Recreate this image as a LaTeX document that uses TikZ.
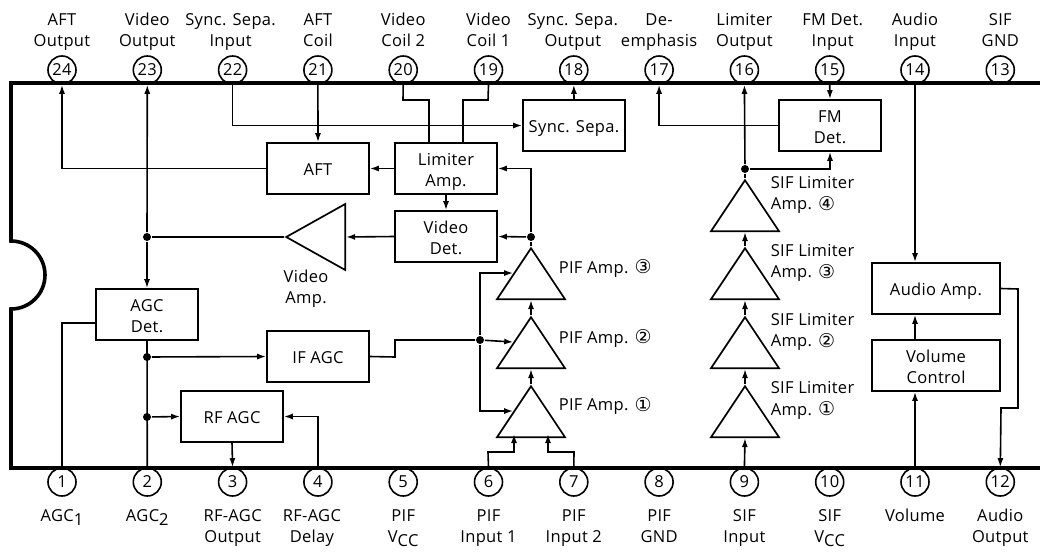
\documentclass[tikz,border=0pt]{standalone}
\usepackage{fontspec}
\setmainfont[LetterSpace=2]{Open Sans}
\newfontfamily\circfont{DejaVu Sans}
\usetikzlibrary{arrows.meta,shapes.geometric}

\newcommand{\subtxt}[1]{\raisebox{-4pt}{#1}}
\newcommand{\circnum}[1]{{\circfont\fontsize{19}{19}\selectfont\raisebox{-0.5pt}{#1}}}

\tikzset{
  txt/.style={font=\fontsize{16.5}{21.8}\selectfont, align=center, inner sep=0pt, text height=12pt, text depth=0pt},
  two/.style={text height=33.8pt},
  pinc/.style={draw, circle, line width=1.6pt, minimum size=28pt, inner sep=0pt, font=\fontsize{16.5}{16.5}\selectfont},
  block/.style={txt, draw, line width=1.6pt, minimum width=102pt, minimum height=51pt, text height=14pt},
  blocktwo/.style={text height=36.8pt},
  wideblock/.style={block, minimum width=128pt},
  ampup/.style={draw, line width=1.7pt, isosceles triangle, isosceles triangle stretches, shape border rotate=90,
    minimum width=68pt, minimum height=51pt, inner sep=0pt, anchor=apex},
  ampleft/.style={ampup, shape border rotate=180, minimum width=66pt, minimum height=59pt},
  amptxt/.style={txt, align=left, anchor=west},
  dot/.style={circle, fill=black, minimum size=8pt, inner sep=0pt},
  hv/.style={to path={-| (\tikztotarget)}},
  vh/.style={to path={|- (\tikztotarget)}}
}

\begin{document}
\begin{tikzpicture}[x=1pt, y=-1pt, ->, >={Latex[length=9pt,width=6pt]}, line width=1.6pt]
  \useasboundingbox (0,0) rectangle (1040,551);

  % upper row of pins
  \node[pinc] (P24)                 at (62,70)       {24};
  \begin{scope}[node distance=85.3pt]
    \node[pinc] (P23) [right of=P24] {23};
    \node[pinc] (P22) [right of=P23] {22};
    \node[pinc] (P21) [right of=P22] {21};
    \node[pinc] (P20) [right of=P21] {20};
    \node[pinc] (P19) [right of=P20] {19};
    \node[pinc] (P18) [right of=P19] {18};
    \node[pinc] (P17) [right of=P18] {17};
    \node[pinc] (P16) [right of=P17] {16};
    \node[pinc] (P15) [right of=P16] {15};
    \node[pinc] (P14) [right of=P15] {14};
    \node[pinc] (P13) [right of=P14] {13};
  \end{scope}

  % lower row of pins
  \node[pinc] (P1)                  at (62,482)      {1};
  \begin{scope}[node distance=85.3pt]
    \node[pinc] (P2)  [right of=P1]  {2};
    \node[pinc] (P3)  [right of=P2]  {3};
    \node[pinc] (P4)  [right of=P3]  {4};
    \node[pinc] (P5)  [right of=P4]  {5};
    \node[pinc] (P6)  [right of=P5]  {6};
    \node[pinc] (P7)  [right of=P6]  {7};
    \node[pinc] (P8)  [right of=P7]  {8};
    \node[pinc] (P9)  [right of=P8]  {9};
    \node[pinc] (P10) [right of=P9]  {10};
    \node[pinc] (P11) [right of=P10] {11};
    \node[pinc] (P12) [right of=P11] {12};
  \end{scope}

  % package outline
  \draw[-, line width=3.6pt] (1040,83) -- (11,83) -- (11,241)
    arc [start angle=90, end angle=-90, radius=34pt] -- (11,468) -- (1040,468);

  % pin names
  \begin{scope}[node distance=40pt]
    \node[txt,two] (T24) [above of=P24] {AFT\\Output};
    \node[txt,two] (T23) [above of=P23] {Video\\Output};
    \node[txt,two] (T22) [above of=P22, xshift=-2pt] {Sync. Sepa.\\Input};
    \node[txt,two] (T21) [above of=P21] {AFT\\Coil};
    \node[txt,two] (T20) [above of=P20] {Video\\Coil 2};
    \node[txt,two] (T19) [above of=P19] {Video\\Coil 1};
    \node[txt,two] (T18) [above of=P18, xshift=-1pt] {Sync. Sepa.\\Output};
    \node[txt,two] (T17) [above of=P17] {De-\\emphasis};
    \node[txt,two] (T16) [above of=P16] {Limiter\\Output};
    \node[txt,two] (T15) [above of=P15, xshift=3pt] {FM Det.\\Input};
    \node[txt,two] (T14) [above of=P14] {Audio\\Input};
    \node[txt,two] (T13) [above of=P13] {SIF\\GND};
  \end{scope}
  \begin{scope}[node distance=33.5pt]
    \node[txt] (T1)  [below of=P1]  {AGC\subtxt{1}};
    \node[txt] (T2)  [below of=P2]  {AGC\subtxt{2}};
    \node[txt] (T11) [below of=P11] {Volume};
  \end{scope}
  \begin{scope}[node distance=44pt]
    \node[txt,two] (T3)  [below of=P3]  {RF-AGC\\Output};
    \node[txt,two] (T4)  [below of=P4, xshift=-6pt] {RF-AGC\\Delay};
    \node[txt,two] (T5)  [below of=P5]  {PIF\\V\subtxt{CC}};
    \node[txt,two] (T6)  [below of=P6]  {PIF\\Input 1};
    \node[txt,two] (T7)  [below of=P7]  {PIF\\Input 2};
    \node[txt,two] (T8)  [below of=P8]  {PIF\\GND};
    \node[txt,two] (T9)  [below of=P9]  {SIF\\Input};
    \node[txt,two] (T10) [below of=P10] {SIF\\V\subtxt{CC}};
    \node[txt,two] (T12) [below of=P12] {Audio\\Output};
  \end{scope}

  % blocks
  \node[block]              (AFT)     at (318,168.5) {AFT};
  \node[block,blocktwo]     (Limiter) at (446,168.5) {Limiter\\Amp.};
  \node[block,blocktwo]     (VideoD)  at (446,236.5) {Video\\Det.};
  \node[block]              (Sync)    at (574,125.5) {Sync. Sepa.};
  \node[block,blocktwo]     (FMDet)   at (830,125.5) {FM\\Det.};
  \node[block,blocktwo]     (AGCDet)  at (147,314.5) {AGC\\Det.};
  \node[block]              (IFAGC)   at (318,356.5) {IF AGC};
  \node[block]              (RFAGC)   at (232,416.5) {RF AGC};
  \node[wideblock]          (AudioA)  at (936,288.5) {Audio Amp.};
  \node[wideblock,blocktwo] (VolC)    at (936,365.5) {Volume\\Control};

  % amplifiers
  \node[ampleft] (VAmp) at (284,237) {};
  \node[ampup] (PIF3) at (531,246) {};
  \node[ampup] (PIF2) at (531,315) {};
  \node[ampup] (PIF1) at (531,384) {};
  \node[ampup] (SIF4) at (745,178) {};
  \node[ampup] (SIF3) at (745,246) {};
  \node[ampup] (SIF2) at (745,315) {};
  \node[ampup] (SIF1) at (745,384) {};

  \node[txt,two]    (VAmpT) at (306,287)   {Video\\Amp.};
  \node[amptxt]     (PIF3T) at (558,267)   {PIF Amp. \circnum{③}};
  \node[amptxt]     (PIF2T) at (558,337)   {PIF Amp. \circnum{②}};
  \node[amptxt]     (PIF1T) at (558,404.5) {PIF Amp. \circnum{①}};
  \node[amptxt,two] (SIF4T) at (770,193)   {SIF Limiter\\Amp. \circnum{④}};
  \node[amptxt,two] (SIF3T) at (770,261)   {SIF Limiter\\Amp. \circnum{③}};
  \node[amptxt,two] (SIF2T) at (770,330)   {SIF Limiter\\Amp. \circnum{②}};
  \node[amptxt,two] (SIF1T) at (770,398.5) {SIF Limiter\\Amp. \circnum{①}};

  % junctions
  \node[dot] (DVid)  at (147,237)   {};
  \node[dot] (DPif)  at (531,237)   {};
  \node[dot] (DSif)  at (745,169)   {};
  \node[dot] (DIf)   at (147,357)   {};
  \node[dot] (DRf)   at (147,417)   {};
  \node[dot] (DGain) at (480,340)   {};

  \path (AFT.west)      edge [hv] (P24.south)
        (DVid)          edge [] (P23.south)
                        edge [] (AGCDet.north)
        (P22.south)     edge [vh] (Sync.west)
        (P21.south)     edge [] (AFT.north)
        (Sync.north)    edge [] (P18.south)
        (Limiter.west)  edge [] (AFT.east)
        (Limiter.south) edge [] (VideoD.north)
        (VideoD.west)   edge [] (VAmp.lower side)
        (DPif)          edge [] (VideoD.east)
        (DPif)          edge [vh] (Limiter.east)
        (FMDet.west)    edge [hv] (P17.south)
        (DSif)          edge [] (P16.south)
                        edge [hv] (FMDet.south)
        (P15.south)     edge [] (FMDet.north)
        (P14.south)     edge [] (P14.south |- AudioA.north)
        (PIF1.apex)     edge [] (PIF2.lower side)
        (PIF2.apex)     edge [] (PIF3.lower side)
        (SIF1.apex)     edge [] (SIF2.lower side)
        (SIF2.apex)     edge [] (SIF3.lower side)
        (SIF3.apex)     edge [] (SIF4.lower side)
        (P9.north)      edge [] (SIF1.lower side)
        (P11.north)     edge [] (P11.north |- VolC.south)
        (P11.north |- VolC.north) edge [] (P11.north |- AudioA.south)
        (DIf)           edge [] (IFAGC.west)
        (DRf)           edge [] (RFAGC.west)
        (RFAGC.south)   edge [] (P3.north)
        (P4.north)      edge [vh] (RFAGC.east)
        (DGain)         edge [] (PIF2.left side)
        (DGain)         edge [vh] (PIF3.left side)
                        edge [vh] (PIF1.left side)
        ;

  % plain wires and wires with several bends
  \draw[-] (P20.south) -- (403,100) -- (429,100) -- (429,143);
  \draw[-] (P19.south) -- (488,100) -- (463,100) -- (463,143);
  \draw[-] (VAmp.apex) -- (DVid);
  \draw[-] (PIF3.apex) -- (DPif);
  \draw[-] (SIF4.apex) -- (DSif);
  \draw[-] (AGCDet.west |- 0,323) -| (P1.north);
  \draw[-] (AGCDet.south) -- (P2.north);
  \draw[-] (IFAGC.east) -- (395,357) -- (395,340) -- (DGain);
  \draw    (P6.north) -- (488,452) -- (514,452) -- (514,434);
  \draw    (P7.north) -- (574,452) -- (548,452) -- (548,434);
  \draw    (AudioA.east) -- (1018,289) -- (1018,408) -- (1001,408) -- (P12.north);
\end{tikzpicture}
\end{document}
